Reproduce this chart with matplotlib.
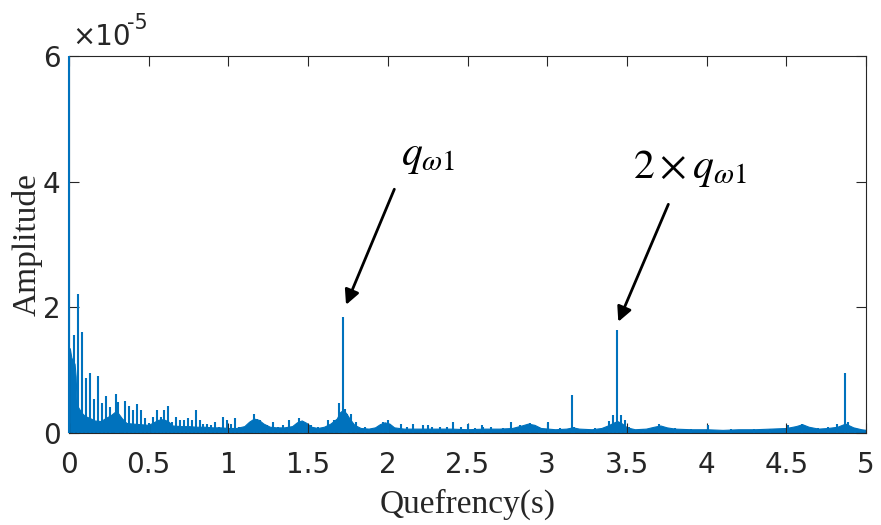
import matplotlib
matplotlib.use("Agg")
import matplotlib.pyplot as plt
import numpy as np

# dense low-level floor of the cepstrum (quefrency s, amplitude x1e-5)
q_floor = [0.000, 0.005, 0.015, 0.025, 0.035, 0.042, 0.048, 0.06, 0.08, 0.10,
           0.13, 0.16, 0.20, 0.23, 0.26, 0.29, 0.31, 0.33, 0.36, 0.40,
           0.45, 0.50, 0.53, 0.56, 0.59, 0.62, 0.65, 0.70, 0.75, 0.80,
           0.85, 0.90, 0.95, 1.00, 1.05, 1.10, 1.13, 1.16, 1.19, 1.22,
           1.26, 1.30, 1.35, 1.40, 1.43, 1.46, 1.49, 1.52, 1.56, 1.60,
           1.64, 1.68, 1.70, 1.72, 1.74, 1.76, 1.79, 1.83, 1.88, 1.92,
           1.95, 1.98, 2.01, 2.04, 2.10, 2.20, 2.30, 2.40, 2.50, 2.60,
           2.70, 2.78, 2.84, 2.88, 2.92, 2.96, 3.05, 3.12, 3.16, 3.20,
           3.28, 3.34, 3.38, 3.42, 3.44, 3.47, 3.50, 3.55, 3.62, 3.67,
           3.71, 3.75, 3.80, 3.90, 4.00, 4.10, 4.20, 4.30, 4.40, 4.50,
           4.56, 4.60, 4.64, 4.70, 4.76, 4.82, 4.87, 4.92, 4.97, 5.00]
a_floor = [1.20, 1.35, 1.20, 1.15, 1.10, 0.90, 0.45, 0.40, 0.32, 0.27,
           0.24, 0.20, 0.19, 0.24, 0.28, 0.34, 0.31, 0.24, 0.16, 0.15,
           0.14, 0.13, 0.17, 0.21, 0.22, 0.19, 0.12, 0.11, 0.11, 0.10,
           0.10, 0.09, 0.09, 0.08, 0.08, 0.11, 0.18, 0.23, 0.21, 0.15,
           0.10, 0.09, 0.09, 0.11, 0.17, 0.20, 0.16, 0.10, 0.08, 0.10,
           0.15, 0.23, 0.33, 0.37, 0.31, 0.23, 0.13, 0.08, 0.07, 0.09,
           0.14, 0.17, 0.15, 0.09, 0.07, 0.07, 0.07, 0.07, 0.06, 0.07,
           0.07, 0.08, 0.12, 0.15, 0.13, 0.08, 0.06, 0.07, 0.09, 0.07,
           0.06, 0.08, 0.12, 0.17, 0.19, 0.15, 0.09, 0.06, 0.07, 0.10,
           0.12, 0.09, 0.07, 0.06, 0.06, 0.05, 0.06, 0.06, 0.07, 0.08,
           0.11, 0.14, 0.10, 0.07, 0.08, 0.10, 0.15, 0.09, 0.06, 0.05]

# rahmonic spikes (quefrency s, amplitude x1e-5)
q_peak = [0.000, 0.031, 0.058, 0.084, 0.107, 0.132, 0.157, 0.182, 0.207, 0.232,
          0.257, 0.295, 0.310, 0.353, 0.378, 0.404, 0.427, 0.452, 0.477, 0.502,
          0.525, 0.550, 0.575, 0.598, 0.623, 0.648, 0.673, 0.698, 0.721, 0.746,
          0.770, 0.795, 0.820, 0.843, 0.868, 0.893, 0.916, 0.940, 0.968, 0.993,
          1.014, 1.040, 1.065, 1.090, 1.160, 1.180, 1.200, 1.240, 1.282, 1.310,
          1.340, 1.382, 1.445, 1.470, 1.520, 1.560, 1.627, 1.660, 1.696, 1.720,
          1.731, 1.745, 1.770, 1.800, 1.860, 1.970, 2.000, 2.080, 2.120, 2.160,
          2.220, 2.250, 2.280, 2.330, 2.370, 2.410, 2.460, 2.505, 2.550, 2.590,
          2.600, 2.650, 2.725, 2.770, 2.830, 2.890, 2.950, 3.007, 3.080, 3.154,
          3.170, 3.250, 3.300, 3.390, 3.410, 3.436, 3.463, 3.488, 3.510, 3.600,
          3.700, 3.800, 3.900, 4.007, 4.150, 4.300, 4.400, 4.510, 4.600, 4.700,
          4.760, 4.816, 4.870, 4.890, 4.930]
a_peak = [6.00, 1.56, 2.21, 1.60, 0.88, 0.95, 0.54, 0.91, 0.48, 0.59,
          0.42, 0.62, 0.50, 0.51, 0.43, 0.37, 0.46, 0.37, 0.24, 0.16,
          0.26, 0.37, 0.26, 0.36, 0.43, 0.18, 0.26, 0.20, 0.20, 0.24,
          0.20, 0.37, 0.21, 0.15, 0.15, 0.12, 0.18, 0.10, 0.25, 0.20,
          0.14, 0.24, 0.10, 0.08, 0.30, 0.23, 0.21, 0.12, 0.18, 0.10,
          0.12, 0.21, 0.24, 0.17, 0.13, 0.10, 0.20, 0.20, 0.47, 1.85,
          0.38, 0.30, 0.30, 0.18, 0.10, 0.17, 0.20, 0.15, 0.10, 0.15,
          0.13, 0.13, 0.09, 0.10, 0.10, 0.17, 0.09, 0.15, 0.08, 0.13,
          0.10, 0.09, 0.08, 0.17, 0.12, 0.16, 0.10, 0.17, 0.08, 0.61,
          0.10, 0.07, 0.08, 0.19, 0.29, 1.64, 0.28, 0.20, 0.10, 0.07,
          0.15, 0.08, 0.07, 0.13, 0.06, 0.06, 0.07, 0.12, 0.15, 0.08,
          0.09, 0.14, 0.96, 0.18, 0.08]

q_floor = np.array(q_floor)
a_floor = np.array(a_floor) * 1e-5
q_peak = np.array(q_peak)
a_peak = np.array(a_peak) * 1e-5

blue = '#0072BD'
dark = '#262626'

plt.rcParams['mathtext.fontset'] = 'stix'

fig = plt.figure(figsize=(8.81, 5.25), dpi=100)
ax = fig.add_axes([0.0783, 0.1752, 0.9047, 0.7181])

ax.fill_between(q_floor, 0, a_floor, color=blue, lw=0.8)
# spikes drawn over the spines so the one at q=0 shows along the left edge
ax.vlines(q_peak, 0, a_peak, color=blue, lw=1.5, zorder=3, clip_on=False)

ax.set_xlim(0, 5)
ax.set_ylim(0, 6e-5)
ax.set_xticks(np.arange(0, 5.01, 0.5))
ax.set_xticklabels(['0', '0.5', '1', '1.5', '2', '2.5', '3', '3.5', '4', '4.5', '5'])
ax.set_yticks([0, 2e-5, 4e-5, 6e-5])
ax.set_yticklabels(['0', '2', '4', '6'])
ax.set_axisbelow(False)
ax.tick_params(direction='in', length=7, width=0.8, color=dark, labelcolor=dark,
               top=True, right=True, labelsize=20)
ax.tick_params(axis='x', pad=13)
ax.tick_params(axis='y', pad=6)
for lab in ax.get_xticklabels() + ax.get_yticklabels():
    lab.set_family('DejaVu Sans')
for s in ax.spines.values():
    s.set_color(dark)
    s.set_linewidth(0.8)

ax.set_xlabel('Quefrency(s)', family='Liberation Serif', fontsize=24, color=dark, labelpad=7)
ax.set_ylabel('Amplitude', family='Liberation Serif', fontsize=24, color=dark, labelpad=0)

# exponent tag above the y axis
ax.text(0.004, 1.012, '×10', transform=ax.transAxes, fontsize=20, color=dark,
        family='DejaVu Sans', va='bottom', ha='left')
ax.text(0.073, 1.06, '-5', transform=ax.transAxes, fontsize=15, color=dark,
        family='DejaVu Sans', va='bottom', ha='left')

ax.annotate('', xy=(1.738, 2.04e-5), xytext=(2.041, 3.88e-5),
            arrowprops=dict(arrowstyle='-|>', color='k', lw=2, mutation_scale=22,
                            shrinkA=0, shrinkB=0))
ax.annotate('', xy=(3.446, 1.77e-5), xytext=(3.76, 3.64e-5),
            arrowprops=dict(arrowstyle='-|>', color='k', lw=2, mutation_scale=22,
                            shrinkA=0, shrinkB=0))
ax.text(2.083, 4.27e-5, r'$q_{\omega 1}$', fontsize=30, color='k', va='baseline', ha='left')
ax.text(3.54, 4.06e-5, r'$2\times q_{\omega 1}$', fontsize=30, color='k', va='baseline', ha='left')

fig.savefig('out.png', dpi=100)
